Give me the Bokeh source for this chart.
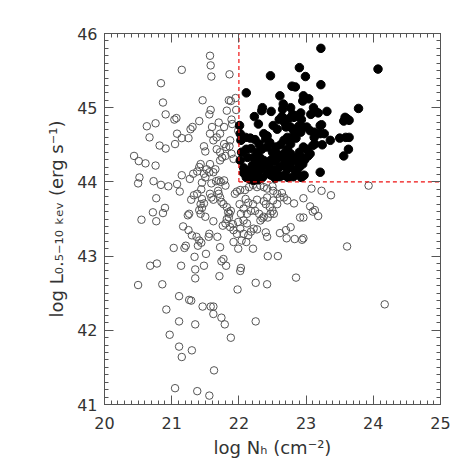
from bokeh.plotting import figure
from bokeh.models import LinearAxis, SingleIntervalTicker, Range1d
from bokeh.embed import file_html
from bokeh.resources import INLINE

# ---- data: log NH (cm^-2), log L(0.5-10 keV) (erg/s) ----
open_nh = [21.57, 21.58, 21.59, 21.15, 21.86, 20.84, 20.87, 21.46, 21.85, 21.88, 21.95, 21.58, 21.56, 21.82, 21.96,
           20.91, 21.04, 21.07, 21.41, 21.70, 21.89, 21.90, 20.63, 20.76, 20.67, 21.08, 21.31, 21.28, 21.60, 21.78,
           21.99, 21.57, 21.15, 21.25, 21.05, 20.82, 20.91, 21.48, 21.50, 21.72, 21.67, 21.62, 21.78, 21.81, 21.86,
           21.87, 21.67, 21.72, 21.75, 21.72, 21.80, 21.89, 21.92, 20.44, 20.51, 20.61, 20.76, 20.52, 20.50, 20.73,
           20.84, 20.95, 21.08, 21.15, 21.12, 20.77, 20.72, 20.87, 20.90, 20.77, 20.55, 21.17, 21.21, 21.19, 21.03,
           20.68, 20.78, 21.14, 20.86, 20.50, 21.34, 21.35, 21.35, 21.48, 21.51, 21.25, 21.30, 21.37, 21.41, 21.44,
           21.39, 21.56, 21.55, 21.68, 21.62, 21.50, 21.41, 21.43, 21.45, 21.26, 21.24, 21.29, 21.33, 21.38, 21.27,
           21.32, 21.38, 21.43, 21.41, 21.45, 21.50, 21.48, 21.52, 21.57, 21.56, 21.62, 21.65, 21.59, 21.66, 21.70,
           21.73, 21.78, 21.80, 21.44, 21.45, 21.48, 21.43, 21.57, 21.59, 21.62, 21.69, 21.70, 21.72, 21.74, 21.77,
           21.82, 21.84, 21.86, 21.88, 21.85, 21.82, 21.80, 21.76, 21.87, 21.91, 21.92, 21.92, 21.99, 21.72, 21.77,
           21.74, 21.81, 21.71, 22.03, 22.02, 21.98, 22.25, 22.42, 22.43, 22.58, 22.71, 22.70, 22.61, 22.77, 22.83,
           22.94, 22.96, 22.91, 22.85, 22.25, 20.97, 21.11, 21.15, 21.30, 21.11, 20.92, 21.11, 21.26, 21.29, 21.35,
           21.46, 21.58, 21.62, 21.62, 21.74, 21.79, 21.88, 21.63, 21.05, 21.38, 21.56, 24.17, 23.61, 23.93, 23.37,
           23.23, 23.08, 23.06, 23.10, 23.13, 23.18, 22.96, 22.96, 22.82, 22.72, 22.67, 22.64, 22.61, 22.57, 22.51,
           22.50, 22.42, 22.37, 22.32, 22.27, 22.21, 22.15, 22.09, 22.02, 21.97, 21.94, 22.01, 22.07, 22.12, 22.18,
           22.24, 22.30, 22.35, 22.37, 22.43, 22.47, 22.50, 22.46, 22.40, 22.37, 22.42, 22.27, 22.21, 22.14, 22.10,
           22.03, 22.07, 22.12, 22.02, 22.07, 22.14, 22.18, 22.22, 22.27, 22.32, 22.40, 22.42, 22.52, 22.51, 22.57,
           22.04, 22.11, 22.21, 21.99, 21.97]
open_lx = [45.70, 45.57, 45.42, 45.51, 45.45, 45.33, 45.07, 45.10, 45.10, 45.09, 45.13, 44.97, 44.91, 44.96, 44.97,
           44.91, 44.84, 44.86, 44.82, 44.80, 44.84, 44.78, 44.75, 44.79, 44.60, 44.65, 44.74, 44.71, 44.74, 44.74,
           44.69, 44.65, 44.59, 44.59, 44.51, 44.49, 44.45, 44.48, 44.41, 44.65, 44.60, 44.56, 44.51, 44.47, 44.48,
           44.56, 44.44, 44.40, 44.33, 44.29, 44.35, 44.38, 44.31, 44.35, 44.28, 44.25, 44.22, 44.06, 43.98, 44.01,
           43.96, 43.94, 43.97, 44.09, 43.87, 43.78, 43.59, 43.58, 43.65, 43.47, 43.49, 43.40, 43.14, 43.11, 43.11,
           42.87, 42.90, 42.87, 42.62, 42.61, 42.99, 42.82, 42.70, 42.87, 43.03, 43.35, 43.28, 43.26, 43.21, 43.18,
           43.14, 43.30, 43.26, 43.26, 43.47, 43.53, 43.62, 43.57, 43.65, 43.57, 43.55, 43.76, 43.82, 43.84, 44.04,
           44.11, 44.14, 44.24, 44.20, 43.99, 44.06, 44.11, 44.17, 44.24, 44.13, 44.13, 44.17, 43.98, 44.01, 44.02,
           44.00, 44.02, 43.95, 43.90, 43.77, 43.71, 43.70, 43.84, 43.79, 43.76, 43.88, 43.84, 43.79, 43.73, 43.70,
           43.66, 43.59, 43.57, 43.61, 43.52, 43.50, 43.44, 43.41, 43.39, 43.43, 43.35, 43.19, 43.10, 43.12, 42.96,
           42.93, 42.87, 42.73, 42.84, 42.80, 42.55, 42.64, 42.62, 43.00, 43.00, 43.24, 43.35, 43.31, 43.39, 43.23,
           43.22, 43.24, 43.52, 42.71, 42.12, 41.94, 41.78, 41.64, 41.73, 42.12, 42.28, 42.46, 42.41, 42.40, 42.08,
           42.32, 42.32, 42.32, 42.22, 42.17, 42.08, 41.90, 41.46, 41.22, 41.18, 41.12, 42.35, 43.13, 43.95, 43.82,
           43.88, 43.91, 43.67, 43.60, 43.62, 43.54, 43.52, 43.78, 43.71, 43.75, 43.79, 43.85, 43.79, 43.84, 43.88,
           43.94, 43.91, 43.93, 43.95, 43.93, 43.96, 43.93, 43.89, 43.89, 43.87, 43.84, 43.70, 43.64, 43.57, 43.61,
           43.61, 43.57, 43.51, 43.53, 43.52, 43.57, 43.61, 43.66, 43.70, 43.74, 43.79, 43.76, 43.70, 43.72, 43.77,
           43.57, 43.48, 43.44, 43.37, 43.30, 43.28, 43.33, 43.37, 43.36, 43.48, 43.32, 43.26, 43.57, 43.75, 43.70,
           43.21, 43.19, 43.10, 43.46, 43.30]

filled_nh = [23.22, 24.07, 22.47, 22.90, 22.99, 23.22, 22.11, 22.61, 22.79, 22.84, 22.96, 23.04, 23.11, 22.95, 23.78,
             22.35, 22.34, 22.48, 22.66, 22.65, 22.77, 22.80, 22.92, 23.07, 23.14, 23.18, 23.31, 22.23, 22.29, 22.60,
             22.64, 22.68, 22.74, 22.82, 22.87, 22.93, 22.51, 22.57, 22.70, 22.77, 22.81, 22.89, 22.95, 23.01, 23.06,
             23.13, 23.21, 23.23, 23.21, 23.27, 23.36, 23.56, 23.61, 23.64, 23.58, 22.01, 22.02, 22.03, 22.10, 22.17,
             22.24, 22.30, 22.37, 22.42, 22.40, 22.46, 22.42, 22.34, 22.27, 22.18, 22.11, 22.04, 22.02, 22.13, 22.22,
             22.31, 22.37, 22.42, 22.47, 22.52, 22.55, 22.62, 22.67, 22.72, 22.80, 22.87, 22.92, 22.85, 22.77, 22.72,
             22.68, 22.65, 22.71, 22.77, 22.80, 22.86, 22.90, 22.96, 23.01, 23.06, 23.10, 23.13, 23.12, 23.24, 23.50,
             23.59, 23.64, 23.63, 23.56, 23.21, 22.07, 22.12, 22.17, 22.22, 22.27, 22.32, 22.38, 22.44, 22.50, 22.56,
             22.60, 22.66, 22.72, 22.77, 22.84, 22.90, 22.95, 22.97, 22.93, 22.87, 22.81, 22.73, 22.67, 22.61, 22.54,
             22.48, 22.42, 22.35, 22.29, 22.22, 22.16, 22.11, 22.07, 22.20, 22.24, 22.29, 22.32, 22.20, 22.62, 22.57,
             22.50, 22.55, 22.70, 22.74, 22.88, 22.93, 22.98, 23.03]
filled_lx = [45.80, 45.52, 45.43, 45.54, 45.42, 45.31, 45.20, 45.16, 45.29, 45.28, 45.16, 45.12, 45.00, 45.09, 44.99,
             45.00, 44.96, 44.95, 45.05, 44.98, 45.00, 44.91, 44.93, 44.91, 44.95, 44.93, 44.95, 44.88, 44.78, 44.84,
             44.88, 44.80, 44.85, 44.87, 44.89, 44.84, 44.76, 44.71, 44.74, 44.74, 44.70, 44.75, 44.73, 44.74, 44.69,
             44.67, 44.76, 44.77, 44.65, 44.65, 44.56, 44.82, 44.85, 44.83, 44.87, 44.76, 44.65, 44.56, 44.60, 44.59,
             44.57, 44.51, 44.65, 44.62, 44.58, 44.53, 44.47, 44.44, 44.40, 44.45, 44.44, 44.40, 44.29, 44.33, 44.33,
             44.33, 44.29, 44.23, 44.29, 44.33, 44.47, 44.50, 44.56, 44.60, 44.61, 44.69, 44.67, 44.59, 44.51, 44.44,
             44.39, 44.35, 44.33, 44.38, 44.29, 44.33, 44.40, 44.47, 44.44, 44.38, 44.49, 44.51, 44.60, 44.50, 44.59,
             44.60, 44.60, 44.44, 44.35, 44.13, 44.19, 44.15, 44.11, 44.09, 44.13, 44.17, 44.22, 44.22, 44.17, 44.13,
             44.20, 44.22, 44.17, 44.20, 44.15, 44.20, 44.24, 44.09, 44.06, 44.11, 44.07, 44.06, 44.09, 44.07, 44.05,
             44.09, 44.11, 44.06, 44.03, 44.02, 44.04, 44.06, 44.12, 44.22, 44.25, 44.29, 44.22, 44.17, 44.33, 44.38,
             44.40, 44.28, 44.26, 44.34, 44.26, 44.33, 44.30, 44.35]

NH_CUT = 22.0
LX_CUT = 44.0
X_RANGE = (20, 25)
Y_RANGE = (41, 46)
X_TITLE = "log N\u2095 (cm\u207B\u00B2)"
Y_TITLE = "log L\u2080.\u2085\u208B\u2081\u2080 \u2096\u2091\u1D65 (erg s\u207B\u00B9)"

FONT = "DejaVu Sans"
TXT = "#333333"
FRAME = "#555555"

p = figure(frame_width=336, frame_height=371, output_backend="svg", toolbar_location=None,
           x_range=Range1d(*X_RANGE), y_range=Range1d(*Y_RANGE),
           min_border_left=104, min_border_right=31, min_border_top=33, min_border_bottom=67,
           x_axis_type=None, y_axis_type=None)
p.xgrid.visible = False
p.ygrid.visible = False
p.outline_line_color = FRAME
p.outline_line_width = 1
p.background_fill_color = "white"
p.border_fill_color = "white"


def make_axis(show_labels, title=None):
    ax = LinearAxis(ticker=SingleIntervalTicker(interval=1, num_minor_ticks=10))
    ax.axis_line_color = FRAME
    ax.major_tick_line_color = FRAME
    ax.minor_tick_line_color = FRAME
    ax.major_tick_in = 9
    ax.major_tick_out = 0
    ax.minor_tick_in = 4
    ax.minor_tick_out = 0
    ax.major_label_text_font = FONT
    ax.major_label_text_font_size = "16px"
    ax.major_label_text_color = TXT if show_labels else None
    ax.axis_label = title
    ax.axis_label_text_font = FONT
    ax.axis_label_text_font_size = "18px"
    ax.axis_label_text_font_style = "normal"
    ax.axis_label_text_color = TXT
    return ax


bx = make_axis(True, X_TITLE)
bx.major_label_standoff = 12
bx.axis_label_standoff = 5
lx = make_axis(True, Y_TITLE)
lx.major_label_standoff = 7
lx.axis_label_standoff = 7
tx = make_axis(False)
rx = make_axis(False)
p.add_layout(bx, "below")
p.add_layout(lx, "left")
p.add_layout(tx, "above")
p.add_layout(rx, "right")

p.scatter(open_nh, open_lx, marker="circle", size=7.5, fill_color=None,
          line_color="#555555", line_width=1)
p.scatter(filled_nh, filled_lx, marker="circle", size=8.5, fill_color="black",
          line_color="black", line_width=1)

# red dashed selection boundaries
p.segment(x0=[NH_CUT, NH_CUT], y0=[LX_CUT, LX_CUT], x1=[NH_CUT, X_RANGE[1]], y1=[Y_RANGE[1], LX_CUT],
          line_color="#ee1111", line_width=1.2, line_dash="4 3")

open("out.html", "w").write(file_html(p, INLINE))
